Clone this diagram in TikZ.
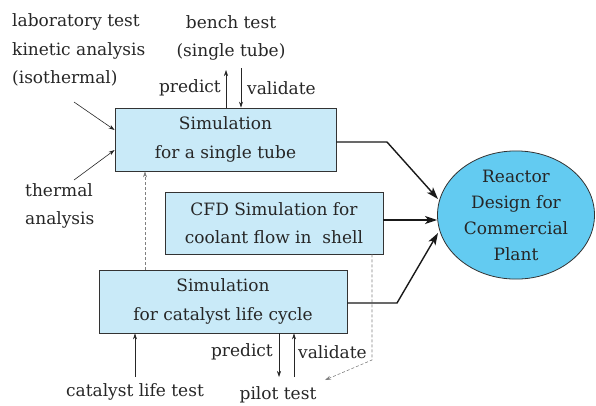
\documentclass[tikz,border=0pt]{standalone}
\usepackage{fontspec}
\setmainfont{DejaVu Serif}
\usetikzlibrary{arrows.meta,shapes.geometric}
\definecolor{boxfill}{HTML}{C9EAF8}
\definecolor{ellfill}{HTML}{63CBF1}
\definecolor{edge}{HTML}{333333}
\tikzset{
  txt/.style={font=\fontsize{17}{28.5}\selectfont, text=black!85, inner sep=0pt},
  simbox/.style={txt, draw=edge, line width=0.8pt, fill=boxfill, align=center},
  thinarr/.style={draw=black!85, line width=0.6pt, -{Stealth[length=6pt,width=4pt]}},
  thickarr/.style={draw=black!90, line width=1.4pt, -{Stealth[length=12pt,width=8pt,inset=3pt]}},
  dashln/.style={draw=gray, line width=0.6pt, dash pattern=on 3pt off 2pt, -{Stealth[length=6pt,width=4pt]}}
}
\begin{document}
\begin{tikzpicture}[x=1pt,y=-1pt]
\useasboundingbox (0,0) rectangle (596,405);
% boxes
\node[simbox, minimum width=221pt, minimum height=63pt] (b1) at (225.5,139.5) {Simulation\\for a single tube};
\node[simbox, minimum width=218pt, minimum height=62pt] (b2) at (274,223) {CFD Simulation for\\coolant flow in\ \ shell};
\node[simbox, minimum width=248pt, minimum height=63pt] (b3) at (223,301.5) {Simulation\\for catalyst life cycle};
\node[txt, ellipse, draw=edge, line width=0.8pt, fill=ellfill, minimum width=157pt, minimum height=116pt, align=center, inner sep=0pt, font=\fontsize{17}{26}\selectfont] (rd) at (516,215) {Reactor\\Design for\\Commercial\\Plant};
% texts
\node[txt, anchor=west, align=left] (lab) at (12,50) {laboratory test\\kinetic analysis\\(isothermal)};
\node[txt, anchor=west, align=left] (th) at (25,206) {thermal\\analysis};
\node[txt, align=center] (bench) at (231,38) {bench test\\(single tube)};
\node[txt, anchor=east] (p1) at (221,88) {predict};
\node[txt, anchor=west] (v1) at (247,88) {validate};
\node[txt, anchor=east] (p2) at (273,352) {predict};
\node[txt, anchor=west] (v2) at (298,352) {validate};
\node[txt] (cat) at (135,392) {catalyst life test};
\node[txt] (pilot) at (278,395) {pilot test};
% coordinates
\coordinate (labend) at (74,102);
\coordinate (thend) at (74,180);
\coordinate (bp) at (226,70);
\coordinate (bv) at (241,68);
\coordinate (pp) at (279,377);
\coordinate (pv) at (294,377);
\coordinate (cp) at (135,377);
\coordinate (d1) at (145,270);
\coordinate (k1) at (387,142);
\coordinate (k2) at (0,220);
\coordinate (k3) at (397,303);
\coordinate (e1) at (438,199);
\coordinate (e3) at (438,233);
\coordinate (c1) at (372,254);
\coordinate (c2) at (372,360);
\coordinate (c3) at (325,380);
% thin arrows
\draw[thinarr] (labend) -- (b1.west |- 0,130);
\draw[thinarr] (thend) -- (b1.west |- 0,150);
\draw[thinarr] (b1.north -| bp) -- (bp);
\draw[thinarr] (bv) -- (b1.north -| bv);
\draw[thinarr] (b3.south -| pp) -- (pp);
\draw[thinarr] (pv) -- (b3.south -| pv);
\draw[thinarr] (cp) -- (b3.south -| cp);
% dashed
\draw[dashln] (b3.north -| d1) -- (b1.south -| d1);
\draw[dashln] (b2.south -| c1) -- (c2) -- (c3);
% thick arrows
\draw[thickarr] (b1.east |- k1) -- (k1) -- (e1);
\draw[thickarr] (b2.east |- k2) -- (rd.west |- k2);
\draw[thickarr] (b3.east |- k3) -- (k3) -- (e3);
\end{tikzpicture}
\end{document}
